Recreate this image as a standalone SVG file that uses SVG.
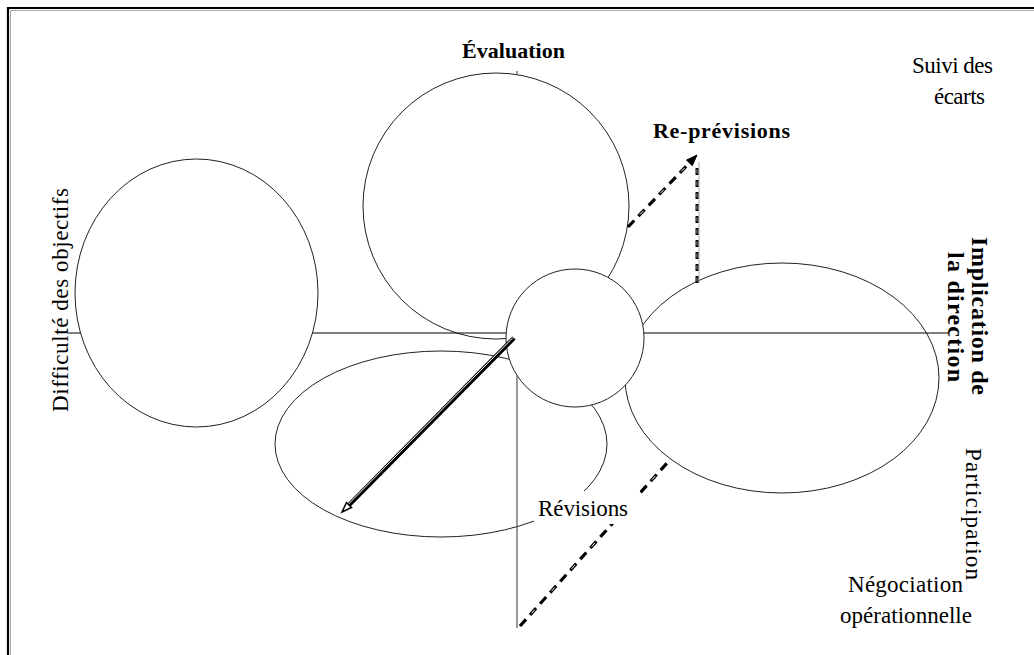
<svg xmlns="http://www.w3.org/2000/svg" width="1034" height="655" viewBox="0 0 1034 655">
<style>
.shape{fill:#fff;stroke:#222;stroke-width:1}
.open{fill:none;stroke:#222;stroke-width:1}
.axis{stroke:#000;stroke-width:1.2;fill:none}
.axisg{stroke:#555;stroke-width:1.2;fill:none}
.t{font-family:"Liberation Serif","Times New Roman",serif;font-size:23px;fill:#000}
.b{font-weight:bold;font-size:22px}
.big{font-size:24px}
.dash{stroke:#000;stroke-width:3.2;stroke-dasharray:9 6;fill:none}
.dashin{stroke:#fff;stroke-width:1;stroke-dasharray:0 17 5 8;fill:none}
.vdash{stroke:#000;stroke-width:3;stroke-dasharray:7 5;fill:none}
.vdashin{stroke:#999;stroke-width:1;stroke-dasharray:0 1.5 4 6.5;fill:none}
</style>
<rect width="1034" height="655" fill="#fff"/>
<g id="frame">
 <path d="M8 655V8H1034" fill="none" stroke="#000" stroke-width="2.2"/>
 <path d="M10.5 655V10.5H1034" fill="none" stroke="#aaa" stroke-width="1"/>
</g>
<g id="node-evaluation"><circle class="shape" cx="496" cy="206" r="133"/></g>
<g id="node-revisions"><ellipse class="open" cx="441" cy="444" rx="166" ry="93"/></g>
<g id="node-implication"><ellipse class="shape" cx="782" cy="378" rx="157" ry="115"/></g>
<g id="node-difficulte"><ellipse class="shape" cx="196.5" cy="293" rx="121.5" ry="134"/></g>
<g id="node-centre"><circle class="shape" cx="575" cy="338" r="69"/></g>
<g id="connectors">
 <path class="axis" d="M67 333H80.6M312.4 333H506.2M643.8 333H948"/>
 <path class="axisg" d="M517 71V74.7M517 375.4V628"/>
 <path d="M514 338L349 505" stroke="#000" stroke-width="4.5" fill="none"/>
 <path d="M513.3 337.3L348.3 504.3" stroke="#fff" stroke-width="1" fill="none"/>
 <polygon points="342,512 351.5,507.5 346.5,502.5" fill="#fff" stroke="#000" stroke-width="1.5"/>
 <path class="dash" d="M628 227L689.4 162.9"/>
 <path class="dashin" d="M628 227L689.4 162.9"/>
 <polygon points="697,155 692.3,165.7 686.5,160.1" fill="#000" stroke="#000" stroke-width="1"/>
 <path d="M699 283V162" stroke="#bbb" stroke-width="1.2" fill="none"/>
 <path class="vdash" d="M697 283V163"/>
 <path class="vdashin" d="M697 283V163"/>
 <path class="dash" d="M520 626L668 462"/>
 <path class="dashin" d="M520 626L668 462"/>
</g>
<g id="labels">
 <text class="t b" x="462" y="58" textLength="103" lengthAdjust="spacing">Évaluation</text>
 <text class="t b" x="653" y="138" textLength="137" lengthAdjust="spacing">Re-prévisions</text>
 <text class="t" x="912" y="73" textLength="81" lengthAdjust="spacing">Suivi des</text>
 <text class="t" x="934" y="104" textLength="51" lengthAdjust="spacing">écarts</text>
 <text class="t b big" transform="translate(972,316) rotate(90)" text-anchor="middle" textLength="158" lengthAdjust="spacing">Implication de</text>
 <text class="t b big" transform="translate(948,317) rotate(90)" text-anchor="middle" textLength="130" lengthAdjust="spacing">la direction</text>
 <text class="t" transform="translate(966,514) rotate(90)" text-anchor="middle" textLength="132" lengthAdjust="spacing">Participation</text>
 <text class="t" x="848" y="592" textLength="115" lengthAdjust="spacing">Négociation</text>
 <text class="t" x="840" y="623" textLength="132" lengthAdjust="spacing">opérationnelle</text>
 <text class="t" transform="translate(68,300) rotate(-90)" text-anchor="middle" textLength="224" lengthAdjust="spacing">Difficulté des objectifs</text>
 <rect x="534" y="491" width="106" height="33" fill="#fff"/>
 <text class="t" x="538" y="516" textLength="90" lengthAdjust="spacing">Révisions</text>
</g>
</svg>
